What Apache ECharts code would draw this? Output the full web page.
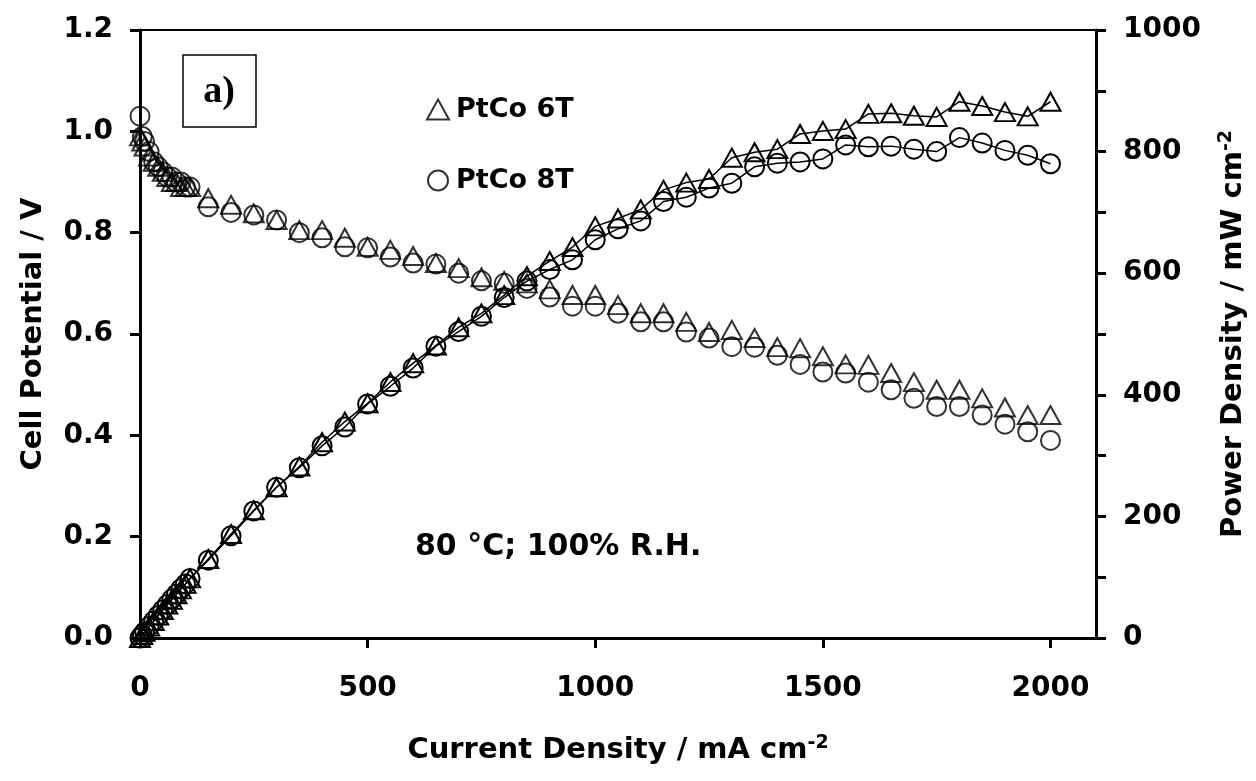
<!DOCTYPE html>
<html>
<head>
<meta charset="utf-8">
<script src="https://cdn.jsdelivr.net/npm/echarts@6/dist/echarts.min.js"></script>
<style>
  html, body { margin: 0; padding: 0; background: #fff; }
  #chart { width: 1256px; height: 781px; }
</style>
</head>
<body>
<div id="chart"></div>
<script>
// Current density (mA cm-2)
const current = [0,5,10,20,30,40,50,60,70,80,90,100,110,150,200,250,300,350,400,450,500,550,600,650,700,750,800,850,900,950,1000,1050,1100,1150,1200,1250,1300,1350,1400,1450,1500,1550,1600,1650,1700,1750,1800,1850,1900,1950,2000];
// Cell potential (V)
const potential6T = [0.99,0.98,0.97,0.95,0.94,0.93,0.92,0.91,0.90,0.90,0.89,0.89,0.89,0.868,0.855,0.838,0.825,0.805,0.805,0.790,0.772,0.766,0.754,0.740,0.730,0.712,0.705,0.700,0.688,0.677,0.677,0.657,0.641,0.641,0.624,0.604,0.608,0.592,0.574,0.572,0.556,0.540,0.539,0.523,0.505,0.490,0.490,0.473,0.455,0.440,0.440];
const potential8T = [1.03,0.99,0.98,0.96,0.94,0.93,0.92,0.91,0.91,0.90,0.90,0.89,0.89,0.851,0.840,0.835,0.825,0.800,0.790,0.772,0.770,0.752,0.740,0.738,0.720,0.705,0.700,0.690,0.673,0.655,0.655,0.641,0.624,0.624,0.604,0.592,0.575,0.574,0.558,0.540,0.525,0.523,0.505,0.490,0.473,0.457,0.457,0.440,0.422,0.407,0.390];
// Power density (mW cm-2)
const power6T = [0,5,10,19,28,37,46,55,63,72,80,89,98,130,171,210,248,282,322,356,386,421,452,481,511,534,564,595,620,643,677,690,705,737,749,755,790,799,804,829,834,837,862,863,859,857,882,875,865,858,882];
const power8T = [0,5,10,19,28,37,46,55,64,72,81,89,98,128,168,209,248,280,316,347,385,414,444,480,504,529,560,587,606,622,655,673,686,718,725,740,748,775,781,783,788,811,808,809,804,800,823,814,802,794,780];

const seriesNames = ['PtCo 6T', 'PtCo 8T'];
const annotation = '80 °C; 100% R.H.';
const panelLabel = 'a)';
const xTitle = 'Current Density / mA cm{sup|-2}';
const yLeftTitle = 'Cell Potential / V';
const yRightTitle = 'Power Density / mW cm{sup|-2}';

const FONT = "'DejaVu Sans', 'Liberation Sans', Arial, sans-serif";
const pairs = (xs, ys) => xs.map((x, i) => [x, ys[i]]);

const markerStyle = { color: 'rgba(0,0,0,0)', borderColor: '#000', borderWidth: 2 };
const triSize = [20, 18];
const circSize = 19;

const labelStyle = { fontFamily: FONT, fontWeight: 'bold', fontSize: 28, color: '#000' };
const titleStyle = { fontFamily: FONT, fontWeight: 'bold', fontSize: 29, color: '#000' };
const supRich = { sup: { fontFamily: FONT, fontWeight: 'bold', fontSize: 19, color: '#000', verticalAlign: 'top', padding: [0, 0, 14, 0] } };

const chart = echarts.init(document.getElementById('chart'));
chart.setOption({
  animation: false,
  backgroundColor: '#fff',
  grid: { left: 140, right: 154, top: 30, bottom: 143, show: true, borderColor: '#000', borderWidth: 2 },
  legend: {
    data: seriesNames,
    orient: 'vertical',
    left: 421, top: 91,
    itemWidth: 22, itemHeight: 20, itemGap: 44,
    textStyle: { fontFamily: FONT, fontWeight: 'bold', fontSize: 27, color: '#000', padding: [0, 0, 0, 2] }
  },
  xAxis: {
    type: 'value', min: 0, max: 2100, interval: 500,
    axisLine: { lineStyle: { color: '#000', width: 3 } },
    axisTick: { length: 10, lineStyle: { color: '#000', width: 3 } },
    axisLabel: Object.assign({ margin: 37, showMaxLabel: false, formatter: v => String(v) }, labelStyle),
    splitLine: { show: false },
    name: xTitle, nameLocation: 'middle', nameGap: 96,
    nameTextStyle: Object.assign({ rich: supRich }, titleStyle)
  },
  yAxis: [
    {
      type: 'value', min: 0, max: 1.2, interval: 0.2, position: 'left',
      axisLine: { show: true, lineStyle: { color: '#000', width: 3 } },
      axisTick: { show: true, length: 10, lineStyle: { color: '#000', width: 3 } },
      axisLabel: Object.assign({ margin: 27, formatter: v => v.toFixed(1) }, labelStyle),
      splitLine: { show: false },
      name: yLeftTitle, nameLocation: 'middle', nameGap: 92, nameRotate: 90,
      nameTextStyle: titleStyle
    },
    {
      type: 'value', min: 0, max: 1000, interval: 100, position: 'right',
      axisLine: { show: true, lineStyle: { color: '#000', width: 3 } },
      axisTick: { show: true, length: 10, lineStyle: { color: '#000', width: 3 } },
      axisLabel: Object.assign({ margin: 27, formatter: v => (v % 200 === 0 ? String(v) : '') }, labelStyle),
      splitLine: { show: false },
      name: yRightTitle, nameLocation: 'middle', nameGap: 121, nameRotate: 90,
      nameTextStyle: Object.assign({ rich: supRich }, titleStyle)
    }
  ],
  series: [
    { name: seriesNames[0], type: 'scatter', yAxisIndex: 0, data: pairs(current, potential6T),
      symbol: 'triangle', symbolSize: triSize, itemStyle: markerStyle, clip: false, z: 3 },
    { name: seriesNames[1], type: 'scatter', yAxisIndex: 0, data: pairs(current, potential8T),
      symbol: 'circle', symbolSize: circSize, itemStyle: markerStyle, clip: false, z: 3 },
    { name: seriesNames[0], type: 'line', yAxisIndex: 1, data: pairs(current, power6T),
      symbol: 'triangle', symbolSize: triSize, showAllSymbol: true, itemStyle: markerStyle,
      lineStyle: { color: '#000', width: 1.5 }, clip: false, z: 3 },
    { name: seriesNames[1], type: 'line', yAxisIndex: 1, data: pairs(current, power8T),
      symbol: 'circle', symbolSize: circSize, showAllSymbol: true, itemStyle: markerStyle,
      lineStyle: { color: '#000', width: 1.5 }, clip: false, z: 3 }
  ],
  graphic: [
    { type: 'rect', z: 10,
      shape: { x: 183, y: 55, width: 73, height: 72 },
      style: { fill: '#fff', stroke: '#000', lineWidth: 1.5 } },
    { type: 'text', z: 11,
      style: { text: panelLabel, x: 219, y: 92, font: "bold 38px 'Liberation Serif', 'Times New Roman', serif", fill: '#000', align: 'center', verticalAlign: 'middle' } },
    { type: 'text', z: 11,
      style: { text: annotation, x: 415, y: 547, font: "bold 30px " + FONT, fill: '#000', align: 'left', verticalAlign: 'middle' } }
  ]
});
</script>
</body>
</html>
